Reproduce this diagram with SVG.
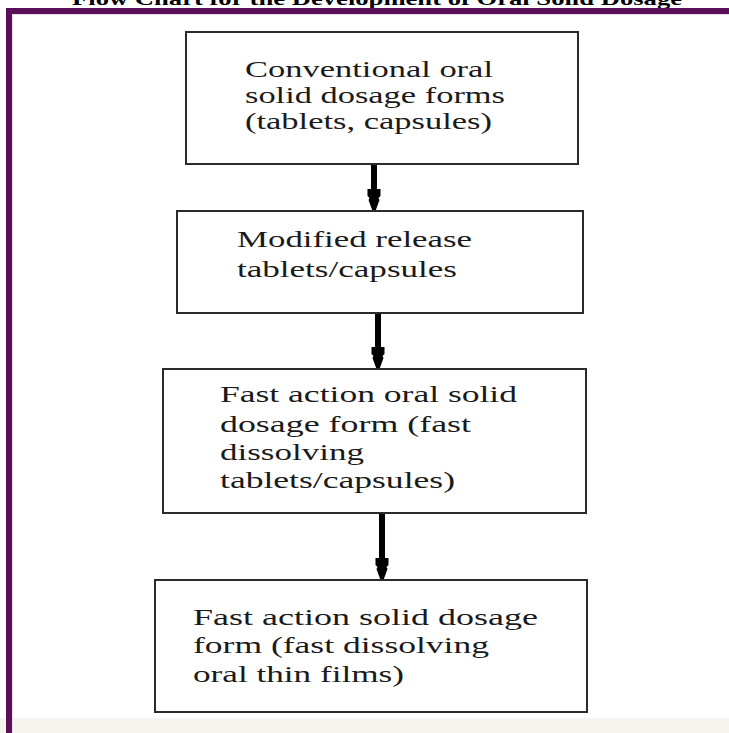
<svg xmlns="http://www.w3.org/2000/svg" width="729" height="733" viewBox="0 0 729 733">
  <style>
    .box { fill: #ffffff; stroke: #2b2b2b; stroke-width: 2; }
    .lbl { font-family: "Liberation Serif", "Times New Roman", serif; font-size: 24px; fill: #1a1a1a; }
    .title { font-family: "Liberation Serif", "Times New Roman", serif; font-size: 18px; font-weight: bold; fill: #000; }
    .shaft { stroke: #000; stroke-width: 6; fill: none; marker-end: url(#head); }
    .frame { fill: #5b0f58; }
  </style>
  <defs>
    <marker id="head" markerUnits="userSpaceOnUse" viewBox="0 -8 22 16" markerWidth="22" markerHeight="16" refX="8" refY="0" orient="auto">
      <path d="M0,-6.5 L7,-6.5 L9,-4.5 L11,-5.5 L22,-1.5 L22,1.5 L11,5.5 L9,4.5 L7,6.5 L0,6.5 Z" fill="#000"/>
    </marker>
  </defs>

  <rect x="0" y="0" width="729" height="733" fill="#ffffff"/>
  <rect x="0" y="718" width="729" height="15" fill="#f6f4ee"/>

  <text class="title" x="72" y="5" textLength="610" lengthAdjust="spacingAndGlyphs">Flow Chart for the Development of Oral Solid Dosage</text>

  <g id="frame">
    <rect class="frame" x="6" y="8" width="723" height="6"/>
    <rect class="frame" x="6" y="8" width="6" height="725"/>
    <rect x="12" y="14" width="717" height="1" fill="#f2dcef"/>
    <rect x="12" y="14" width="1" height="719" fill="#f2dcef"/>
  </g>

  <g id="connectors">
    <line class="shaft" x1="374" y1="164" x2="374" y2="197"/>
    <line class="shaft" x1="378" y1="313" x2="378" y2="355"/>
    <line class="shaft" x1="382" y1="513" x2="382" y2="566"/>
  </g>

  <g id="node1">
    <rect class="box" x="186" y="32" width="392" height="132"/>
    <text class="lbl" x="245" y="77" textLength="248" lengthAdjust="spacingAndGlyphs">Conventional oral</text>
    <text class="lbl" x="245" y="103" textLength="260" lengthAdjust="spacingAndGlyphs">solid dosage forms</text>
    <text class="lbl" x="245" y="129" textLength="247" lengthAdjust="spacingAndGlyphs">(tablets, capsules)</text>
  </g>

  <g id="node2">
    <rect class="box" x="177" y="211" width="406" height="102"/>
    <text class="lbl" x="237" y="247" textLength="235" lengthAdjust="spacingAndGlyphs">Modified release</text>
    <text class="lbl" x="237" y="277" textLength="220" lengthAdjust="spacingAndGlyphs">tablets/capsules</text>
  </g>

  <g id="node3">
    <rect class="box" x="163" y="369" width="423" height="144"/>
    <text class="lbl" x="220" y="402" textLength="297" lengthAdjust="spacingAndGlyphs">Fast action oral solid</text>
    <text class="lbl" x="220" y="432" textLength="251" lengthAdjust="spacingAndGlyphs">dosage form (fast</text>
    <text class="lbl" x="220" y="460" textLength="144" lengthAdjust="spacingAndGlyphs">dissolving</text>
    <text class="lbl" x="220" y="488" textLength="235" lengthAdjust="spacingAndGlyphs">tablets/capsules)</text>
  </g>

  <g id="node4">
    <rect class="box" x="155" y="580" width="432" height="132"/>
    <text class="lbl" x="193" y="625" textLength="345" lengthAdjust="spacingAndGlyphs">Fast action solid dosage</text>
    <text class="lbl" x="193" y="653" textLength="296" lengthAdjust="spacingAndGlyphs">form (fast dissolving</text>
    <text class="lbl" x="193" y="682" textLength="211" lengthAdjust="spacingAndGlyphs">oral thin films)</text>
  </g>
</svg>
